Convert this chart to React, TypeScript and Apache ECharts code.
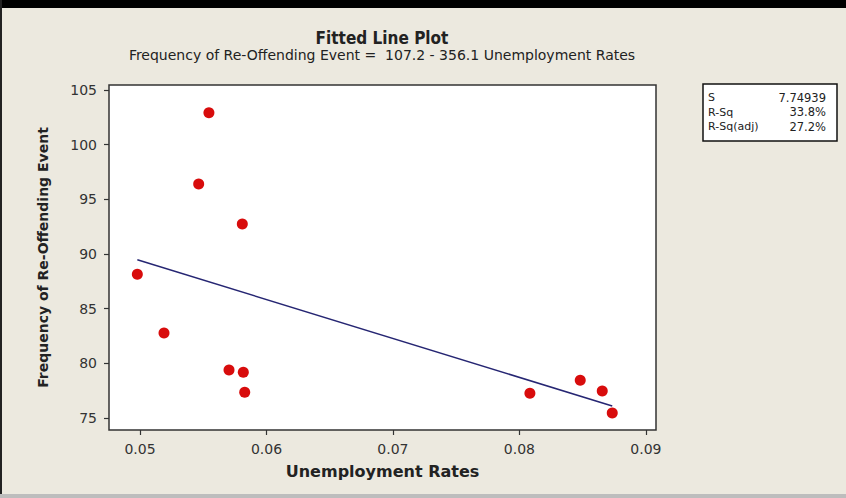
import React, { useEffect, useRef } from "react";
import * as echarts from "echarts";

// Observations: unemployment rate vs. re-offending frequency
const unemploymentRates = [
  0.04979, 0.0519, 0.05464, 0.05545, 0.05704, 0.05809, 0.05817, 0.05828,
  0.08083, 0.08481, 0.08655, 0.08734,
];
const reOffending = [
  88.14, 82.77, 96.4, 102.92, 79.39, 92.74, 79.18, 77.35, 77.26, 78.45, 77.47,
  75.46,
];

// Regression coefficients: y = intercept + slope * x
const intercept = 107.2;
const slope = -356.1;

const xTicks = [0.05, 0.06, 0.07, 0.08, 0.09];
const yTicks = [75, 80, 85, 90, 95, 100, 105];

const statLabels = ["S", "R-Sq", "R-Sq(adj)"];
const statValues = ["7.74939", "33.8%", "27.2%"];

const FONT = '"DejaVu Sans", sans-serif';
const FONT_COND = '"DejaVu Sans Condensed", "DejaVu Sans", sans-serif';

export default function App() {
  const ref = useRef<HTMLDivElement>(null);

  useEffect(() => {
    if (!ref.current) return;
    const chart = echarts.init(ref.current, null, { renderer: "svg" });

    const points = unemploymentRates.map((x, i) => [x, reOffending[i]]);
    const xMin = Math.min(...unemploymentRates);
    const xMax = Math.max(...unemploymentRates);
    const fitLine = [xMin, xMax].map((x) => [x, intercept + slope * x]);

    const statTexts: any[] = [];
    statLabels.forEach((label, i) => {
      statTexts.push({
        type: "text",
        x: 708,
        y: 97.5 + i * 14.5,
        style: {
          text: label,
          font: `11px ${FONT}`,
          fill: "#222",
          textAlign: "left",
          textVerticalAlign: "middle",
        },
      });
      statTexts.push({
        type: "text",
        x: 826,
        y: 97.5 + i * 14.5,
        style: {
          text: statValues[i],
          font: `11.5px ${FONT}`,
          fill: "#222",
          textAlign: "right",
          textVerticalAlign: "middle",
        },
      });
    });

    chart.setOption({
      animation: false,
      backgroundColor: "#ece9df",
      grid: {
        left: 109,
        top: 85,
        right: 846 - 656,
        bottom: 498 - 430,
        show: true,
        backgroundColor: "#ffffff",
        borderColor: "#333333",
        borderWidth: 1.5,
      },
      xAxis: {
        type: "value",
        min: 0.04755,
        max: 0.0908,
        splitLine: { show: false },
        axisLine: { show: false },
        axisTick: {
          show: true,
          inside: false,
          length: 5,
          customValues: xTicks,
          lineStyle: { color: "#333", width: 1.2 },
        },
        axisLabel: {
          customValues: xTicks,
          formatter: (v: number) => v.toFixed(2),
          color: "#333",
          fontFamily: FONT,
          fontSize: 14,
          margin: 12,
        },
        name: "Unemployment Rates",
        nameLocation: "middle",
        nameGap: 33,
        nameTextStyle: {
          fontFamily: FONT,
          fontWeight: "bold",
          fontSize: 16,
          color: "#222",
        },
      },
      yAxis: {
        type: "value",
        min: 73.9,
        max: 105.45,
        splitLine: { show: false },
        axisLine: { show: false },
        axisTick: {
          show: true,
          inside: false,
          length: 5,
          customValues: yTicks,
          lineStyle: { color: "#333", width: 1.2 },
        },
        axisLabel: {
          customValues: yTicks,
          formatter: (v: number) => String(Math.round(v)),
          color: "#333",
          fontFamily: FONT,
          fontSize: 14,
          margin: 12,
        },
        name: "Frequency of Re-Offending Event",
        nameLocation: "middle",
        nameGap: 59,
        nameTextStyle: {
          fontFamily: FONT,
          fontWeight: "bold",
          fontSize: 14,
          color: "#222",
        },
      },
      graphic: [
        { type: "rect", shape: { x: 0, y: 0, width: 846, height: 8 }, style: { fill: "#000" } },
        { type: "rect", shape: { x: 0, y: 0, width: 2, height: 498 }, style: { fill: "#222" } },
        { type: "rect", shape: { x: 0, y: 494, width: 846, height: 4 }, style: { fill: "#bdbdbd" } },
        {
          type: "text",
          x: 382,
          y: 38,
          style: {
            text: "Fitted Line Plot",
            font: `bold 17px ${FONT_COND}`,
            fill: "#222",
            textAlign: "center",
            textVerticalAlign: "middle",
          },
        },
        {
          type: "text",
          x: 382,
          y: 55,
          style: {
            text: "Frequency of Re-Offending Event =  107.2 - 356.1 Unemployment Rates",
            font: `14px ${FONT}`,
            fill: "#222",
            textAlign: "center",
            textVerticalAlign: "middle",
          },
        },
        {
          type: "rect",
          shape: { x: 703, y: 84, width: 134, height: 57 },
          style: { fill: "#ffffff", stroke: "#111", lineWidth: 1.5 },
        },
        ...statTexts,
      ],
      series: [
        {
          type: "line",
          data: fitLine,
          showSymbol: false,
          lineStyle: { color: "#262673", width: 1.5 },
          z: 2,
        },
        {
          type: "scatter",
          data: points,
          symbol: "circle",
          symbolSize: 11,
          itemStyle: { color: "#d80c0c", opacity: 1 },
          z: 3,
        },
      ],
    });

    return () => chart.dispose();
  }, []);

  return (
    <div
      ref={ref}
      style={{ position: "fixed", left: 0, top: 0, width: 846, height: 498 }}
    />
  );
}
